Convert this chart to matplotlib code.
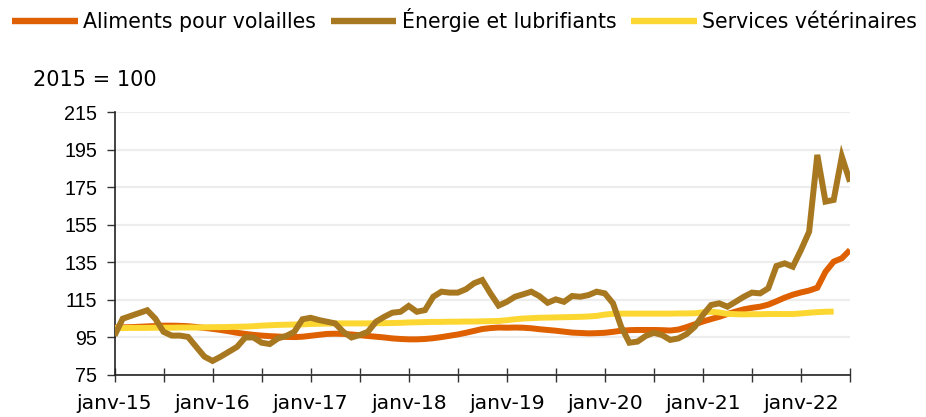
import matplotlib
matplotlib.use("Agg")
import matplotlib.pyplot as plt
from matplotlib.ticker import FixedLocator, MultipleLocator
import numpy as np

# ---------------- data ----------------
series_names = ["Aliments pour volailles", "Énergie et lubrifiants", "Services vétérinaires"]

aliments = [
    100.3, 100.4, 100.5, 100.7, 100.9, 101.1, 101.3, 101.3, 101.2, 101.0, 100.6, 100.1,
    99.6, 99.0, 98.3, 97.5, 96.9, 96.4, 96.0, 95.7, 95.5, 95.3, 95.2, 95.4,
    95.9, 96.4, 96.9, 97.0, 96.9, 96.6, 96.2, 95.8, 95.4, 95.0, 94.5, 94.2,
    94.0, 94.0, 94.2, 94.6, 95.2, 95.9, 96.6, 97.5, 98.5, 99.5, 100.0, 100.3,
    100.2, 100.3, 100.2, 99.9, 99.4, 99.0, 98.6, 98.1, 97.6, 97.4, 97.2, 97.3,
    97.5, 98.0, 98.6, 98.9, 99.0, 99.0, 99.0, 98.9, 98.7, 99.2, 100.5, 102.0,
    103.5, 104.8, 106.0, 107.5, 108.8, 110.0, 110.8, 111.4, 112.5, 114.3, 116.2, 117.8,
    119.0, 120.0, 121.5, 130.0, 135.4, 137.2, 141.6,
]

energie = [
    96.0, 105.0, 106.5, 108.0, 109.5, 105.0, 98.0, 96.0, 96.0, 95.3, 90.0, 84.8,
    82.5, 84.8, 87.4, 90.0, 95.0, 95.0, 92.2, 91.5, 94.5, 95.8, 98.0, 104.7,
    105.5, 104.3, 103.4, 102.5, 98.0, 95.0, 96.3, 98.0, 103.4, 106.0, 108.2, 108.7,
    111.8, 108.7, 109.6, 116.7, 119.4, 118.9, 118.9, 120.7, 123.9, 125.6, 118.5, 112.0,
    114.0, 116.7, 118.0, 119.4, 117.0, 113.5, 115.3, 114.0, 117.1, 116.7, 117.6, 119.4,
    118.5, 113.2, 100.7, 92.2, 92.8, 95.8, 97.5, 96.3, 93.7, 94.5, 96.8, 100.7,
    107.0, 112.3, 113.2, 111.4, 114.0, 116.7, 118.9, 118.5, 121.2, 133.1, 134.5, 132.7,
    141.6, 151.4, 192.3, 167.4, 168.3, 191.4, 178.0,
]

services = [
    100.0, 100.0, 100.1, 100.1, 100.1, 100.2, 100.2, 100.2, 100.3, 100.3, 100.3, 100.4,
    100.5, 100.5, 100.6, 100.7, 100.8, 101.0, 101.3, 101.5, 101.7, 101.8, 101.9, 102.0,
    102.2, 102.3, 102.4, 102.5, 102.5, 102.5, 102.5, 102.5, 102.6, 102.6, 102.7, 102.8,
    103.0, 103.1, 103.2, 103.3, 103.3, 103.4, 103.4, 103.5, 103.5, 103.6, 103.7, 103.8,
    104.2, 104.7, 105.1, 105.3, 105.5, 105.6, 105.7, 105.8, 105.9, 106.0, 106.2, 106.5,
    107.2, 107.6, 107.7, 107.7, 107.7, 107.7, 107.7, 107.7, 107.7, 107.8, 107.8, 107.9,
    108.4, 108.7, 108.3, 107.6, 107.4, 107.3, 107.4, 107.4, 107.5, 107.5, 107.5, 107.5,
    107.8, 108.2, 108.5, 108.7, 108.8,
]

tick_labels = ["janv-15", "janv-16", "janv-17", "janv-18", "janv-19", "janv-20", "janv-21", "janv-22"]
y_ticks = [75, 95, 115, 135, 155, 175, 195, 215]
unit_label = "2015 = 100"

colors = ["#DE6000", "#A77820", "#FDD731"]

# ---------------- figure ----------------
W, H, DPI = 926, 417, 100
fig = plt.figure(figsize=(W / DPI, H / DPI), dpi=DPI)
ax = fig.add_axes([114.5 / W, 1 - 375 / H, (850 - 114.5) / W, (375 - 112.3) / H])

lw = 4.3
x_al = np.arange(len(aliments))
x_en = np.arange(len(energie))
x_se = np.arange(len(services))
l1, = ax.plot(x_al, aliments, color=colors[0], lw=lw, solid_joinstyle="miter", solid_capstyle="butt", zorder=3)
l3, = ax.plot(x_se, services, color=colors[2], lw=lw, solid_joinstyle="miter", solid_capstyle="butt", zorder=4)
l2, = ax.plot(x_en, energie, color=colors[1], lw=lw, solid_joinstyle="miter", solid_capstyle="butt", zorder=5)

ax.set_xlim(0, 90)
ax.set_ylim(75, 215)
ax.yaxis.set_major_locator(FixedLocator(y_ticks))
ax.grid(axis="y", color="#EDEDED", lw=1.6, zorder=0)
ax.set_axisbelow(True)

major_pos = [12 * i for i in range(len(tick_labels))]
ax.set_xticks(major_pos)
ax.set_xticklabels(tick_labels)
ax.xaxis.set_minor_locator(MultipleLocator(6))

for s in ["top", "right"]:
    ax.spines[s].set_visible(False)
for s in ["left", "bottom"]:
    ax.spines[s].set_color("#222222")
    ax.spines[s].set_linewidth(1.2)

ax.tick_params(axis="x", which="both", direction="inout", length=10, width=1.0, color="#333333",
               labelsize=14.6, pad=9)
ax.tick_params(axis="y", direction="out", length=5.5, width=1.0, color="#333333", pad=7)
for lab in ax.get_yticklabels():
    lab.set_family("Liberation Sans")
    lab.set_fontsize(14.2)
for lab in ax.get_xticklabels():
    lab.set_family("DejaVu Sans")

fig.text(33 / W, 1 - 80 / H, unit_label, fontsize=15, family="DejaVu Sans", va="center", ha="left")

leg = fig.legend([l1, l2, l3], series_names, loc="center left", bbox_to_anchor=(12 / W, 1 - 20 / H),
                 ncol=3, frameon=False, fontsize=14.8, handlelength=3.2, handletextpad=0.25,
                 columnspacing=0.72, borderaxespad=0, borderpad=0)
for h in leg.get_lines():
    h.set_linewidth(4.6)

fig.savefig("out.png", dpi=DPI)
